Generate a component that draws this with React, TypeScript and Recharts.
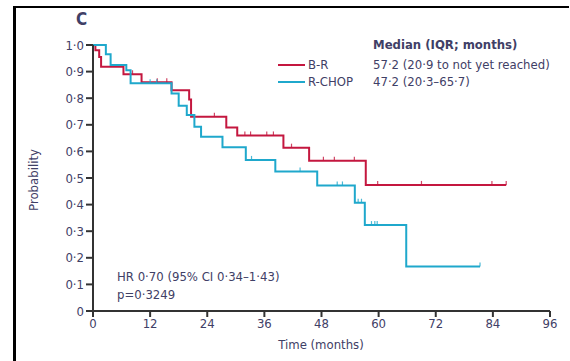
import React from 'react';
import { ComposedChart, Line, Scatter, XAxis, YAxis } from 'recharts';

// Kaplan-Meier steps (months, probability)
const brTimes = [0, 0.5, 1.3, 1.7, 6.4, 10.2, 16.5, 20.2, 20.6, 28, 30.3, 40, 45.4, 57.3, 86.8];
const brSurv = [1.0, 0.98, 0.955, 0.918, 0.89, 0.86, 0.83, 0.795, 0.73, 0.69, 0.66, 0.614, 0.565, 0.474, 0.474];

const rchopTimes = [0, 2.7, 3.7, 7.0, 7.9, 16.5, 18, 19.7, 21.3, 22.7, 27.2, 32.1, 38.3, 47.1, 55, 57.1, 65.8, 81.3];
const rchopSurv = [1.0, 0.965, 0.925, 0.905, 0.856, 0.818, 0.772, 0.737, 0.693, 0.655, 0.616, 0.568, 0.524, 0.472, 0.407, 0.323, 0.167, 0.167];

// censored observations
const brCensorTimes = [8.3, 13.5, 15.5, 25.5, 31.9, 33.1, 36.5, 37.9, 41.7, 48.4, 50.7, 54.9, 59.8, 69, 83.8, 86.8];
const brCensorSurv = [0.89, 0.86, 0.86, 0.73, 0.66, 0.66, 0.66, 0.66, 0.614, 0.565, 0.565, 0.565, 0.474, 0.474, 0.474, 0.474];
const rchopCensorTimes = [12, 13.4, 33.3, 43.5, 51.3, 52.4, 55.7, 56.4, 58.5, 59.2, 59.7, 81.3];
const rchopCensorSurv = [0.856, 0.856, 0.568, 0.524, 0.472, 0.472, 0.407, 0.407, 0.323, 0.323, 0.323, 0.167];

const xTicks = [0, 12, 24, 36, 48, 60, 72, 84, 96];
const yTicks = [0, 0.1, 0.2, 0.3, 0.4, 0.5, 0.6, 0.7, 0.8, 0.9, 1.0];

const RED = '#c4173f';
const BLUE = '#1fa8cc';
const TEXT = '#3f4066';
const FONT = "'Liberation Sans Narrow', 'DejaVu Sans Condensed', 'Open Sans', sans-serif";

const toPoints = (ts: number[], ss: number[]) => ts.map((t, i) => ({ t, s: ss[i] }));

const brData = toPoints(brTimes, brSurv);
const rchopData = toPoints(rchopTimes, rchopSurv);
const brCensor = toPoints(brCensorTimes, brCensorSurv);
const rchopCensor = toPoints(rchopCensorTimes, rchopCensorSurv);

const fmtDot = (v: number) => (v === 0 ? '0' : v.toFixed(1).replace('.', '\u00b7'));

const censorShape = (color: string) => (props: any) => {
  const { cx, cy } = props;
  return <line x1={cx} x2={cx} y1={cy - 4} y2={cy} stroke={color} strokeWidth={1.2} strokeOpacity={0.8} />;
};

const txt = (x: number, y: number, extra: React.CSSProperties = {}): React.CSSProperties => ({
  position: 'absolute',
  left: x,
  top: y,
  fontFamily: FONT,
  fontSize: 13,
  color: TEXT,
  whiteSpace: 'nowrap',
  lineHeight: '15px',
  ...extra,
});

const App: React.FC = () => {
  return (
    <div style={{ position: 'absolute', left: 0, top: 0, width: 570, height: 361, background: '#fff', overflow: 'hidden' }}>
      {/* frame */}
      <div style={{ position: 'absolute', left: 13, top: 6, width: 3, height: 355, background: '#000' }} />
      <div style={{ position: 'absolute', left: 13, top: 6, width: 556, height: 2, background: '#000' }} />

      <ComposedChart width={570} height={361} margin={{ top: 45, right: 20, bottom: 0, left: 0 }}>
        <XAxis
          dataKey="t"
          type="number"
          domain={[0, 96]}
          ticks={xTicks}
          height={50}
          tickSize={6}
          axisLine={{ stroke: '#333', strokeWidth: 2 }}
          tickLine={{ stroke: '#333', strokeWidth: 2 }}
          tick={{ fill: TEXT, fontSize: 13, fontFamily: FONT }}
          allowDuplicatedCategory={false}
        />
        <YAxis
          dataKey="s"
          type="number"
          domain={[0, 1]}
          ticks={yTicks}
          width={93}
          tickSize={7}
          tickFormatter={fmtDot}
          axisLine={{ stroke: '#333', strokeWidth: 2 }}
          tickLine={{ stroke: '#333', strokeWidth: 2 }}
          tick={{ fill: TEXT, fontSize: 13, fontFamily: FONT }}
        />
        <Line data={brData} dataKey="s" type="stepAfter" stroke={RED} strokeWidth={2} dot={false} isAnimationActive={false} />
        <Line data={rchopData} dataKey="s" type="stepAfter" stroke={BLUE} strokeWidth={2} dot={false} isAnimationActive={false} />
        <Scatter data={brCensor} dataKey="s" shape={censorShape(RED)} isAnimationActive={false} />
        <Scatter data={rchopCensor} dataKey="s" shape={censorShape(BLUE)} isAnimationActive={false} />
      </ComposedChart>

      <div style={txt(76, 10, { fontSize: 17, fontWeight: 'bold', lineHeight: '19px' })}>C</div>

      <div style={txt(33, 180, { transform: 'translate(-50%, -50%) rotate(-90deg)', left: 33, top: 180 })}>Probability</div>
      <div style={txt(321, 337, { transform: 'translateX(-50%)' })}>Time (months)</div>

      {/* legend */}
      <div style={{ position: 'absolute', left: 278, top: 64, width: 27, height: 2, background: RED }} />
      <div style={{ position: 'absolute', left: 278, top: 81, width: 27, height: 2, background: BLUE }} />
      <div style={txt(308, 57)}>B-R</div>
      <div style={txt(308, 74)}>R-CHOP</div>
      <div style={txt(373, 37, { fontWeight: 'bold' })}>Median (IQR; months)</div>
      <div style={txt(373, 57)}>57·2 (20·9 to not yet reached)</div>
      <div style={txt(373, 74)}>47·2 (20·3–65·7)</div>

      <div style={txt(117, 269)}>HR 0·70 (95% CI 0·34–1·43)</div>
      <div style={txt(117, 287)}>p=0·3249</div>
    </div>
  );
};

export default App;
